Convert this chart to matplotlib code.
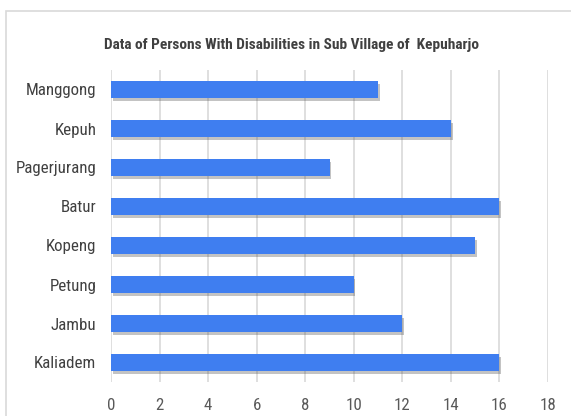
import matplotlib
matplotlib.use("Agg")
import matplotlib.pyplot as plt
import matplotlib.patheffects as pe
from matplotlib.patches import Rectangle
from matplotlib import font_manager

villages = ["Manggong", "Kepuh", "Pagerjurang", "Batur", "Kopeng", "Petung", "Jambu", "Kaliadem"]
counts = [11, 14, 9, 16, 15, 10, 12, 16]
xticks = [0, 2, 4, 6, 8, 10, 12, 14, 16, 18]
title = "Data of Persons With Disabilities in Sub Village of  Kepuharjo"

names = {f.name for f in font_manager.fontManager.ttflist}
cands = ["Liberation Sans Narrow", "Roboto Condensed", "Open Sans Condensed", "Liberation Sans"]
fam = [c for c in cands if c in names][:1] or ["DejaVu Sans"]
plt.rcParams["font.family"] = fam + ["DejaVu Sans"]

fig = plt.figure(figsize=(5.71, 4.16), dpi=100)
fig.patches.append(Rectangle((6/571, -0.1), 1.2, 1 - 11/416 + 0.1, transform=fig.transFigure,
                             fill=False, edgecolor="#d9d9d9", linewidth=1.2))
ax = fig.add_axes([111/571, 34/416, 437/571, 312/416])

y = list(range(len(villages)))
bars = ax.barh(y, counts, height=0.44, color="#3f7ef0", zorder=3)
for b in bars:
    b.set_path_effects([pe.SimplePatchShadow(offset=(1.2, -2), shadow_rgbFace="#555555", alpha=0.35),
                        pe.Normal()])

ax.set_xlim(0, 18)
ax.set_ylim(len(villages) - 0.5, -0.5)
ax.set_yticks(y)
ax.set_yticklabels(villages, fontsize=12.2, color="#404040")
ax.set_xticks(xticks)
ax.set_xticklabels([str(t) for t in xticks], fontsize=12.2, color="#595959")
ax.tick_params(length=0)
ax.tick_params(axis="x", pad=11.5)
ax.tick_params(axis="y", pad=10.5)
ax.grid(axis="x", color="#d9d9d9", linewidth=1.2, zorder=0)
ax.set_axisbelow(True)
for s in ax.spines.values():
    s.set_visible(False)

fig.text(291/571, 1 - 45/416, title, ha="center", va="center", fontsize=11.1,
         fontweight="bold", color="#404040")

fig.savefig("out.png", dpi=100)
